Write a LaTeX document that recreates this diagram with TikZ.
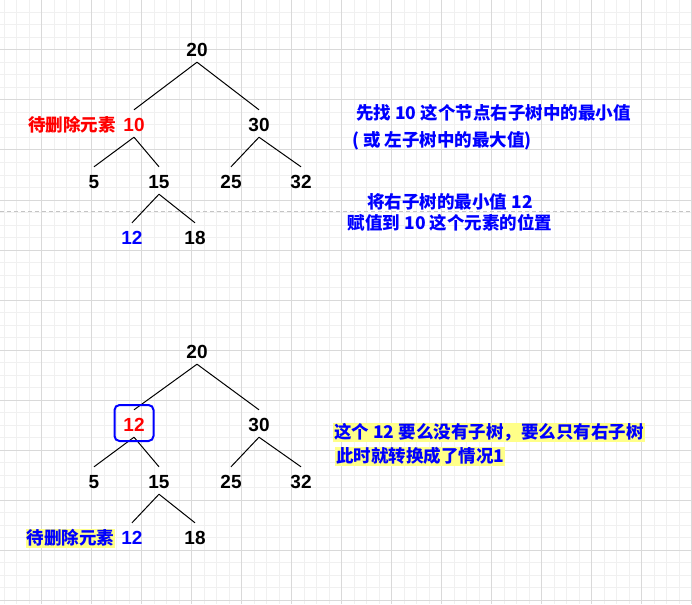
\documentclass[tikz,border=0pt]{standalone}
\usepackage{fontspec}
\setmainfont{Liberation Sans}
\newfontfamily\cjk{Noto Sans CJK SC}

\definecolor{gridmajor}{HTML}{D9D9D9}
\definecolor{gridminor}{HTML}{F0F0F0}
\definecolor{dashgray}{HTML}{C4C4C4}
\definecolor{noteblue}{HTML}{0000FF}
\definecolor{delred}{HTML}{FF0000}
\definecolor{hlyellow}{HTML}{FFFF88}

\tikzset{
  num/.style={inner sep=0pt, text height=21.8pt, text depth=5.2pt,
    font=\fontsize{19}{22}\selectfont\bfseries},
  edge/.style={line width=1pt},
  note/.style={inner sep=0pt, text=noteblue,
    font=\cjk\fontsize{17.5}{21}\selectfont\bfseries},
  hl/.style={note, fill=hlyellow, inner xsep=1pt, inner ysep=0.5pt,
    text height=15pt, text depth=2.5pt},
  selbox/.style={draw=noteblue, line width=2pt, rounded corners=5pt,
    minimum width=39pt, minimum height=36pt, inner sep=0pt}
}

\begin{document}
\begin{tikzpicture}[x=1pt, y=-1pt]
    \useasboundingbox (0,0) rectangle (692,604);
    % Grid paper in the background
    \foreach \gx in {4,16.5,...,692} \draw[gridminor, line width=1pt] (\gx,0) -- (\gx,604);
    \foreach \gy in {0,12.5,...,604} \draw[gridminor, line width=1pt] (0,\gy) -- (692,\gy);
    \foreach \gx in {41.5,91.5,...,692} \draw[gridmajor, line width=1pt] (\gx,0) -- (\gx,604);
    \foreach \gy in {0,50,...,604} \draw[gridmajor, line width=1pt] (0,\gy) -- (692,\gy);

    % Dashed separator between the two steps
    \draw[dashgray, line width=1pt, dash pattern=on 4pt off 3pt] (0,211) -- (692,211);

    % First tree: the node 10 is to be deleted
    \node[num] (n20) at (197,48.5) {20};
    \node[num, text=delred] (n10) at (134,123.5) {10};
    \node[num] (n30) at (259,123.5) {30};
    \node[num] (n5) at (94,180.5) {5};
    \node[num] (n15) at (159,180.5) {15};
    \node[num] (n25) at (231,180.5) {25};
    \node[num] (n32) at (301,180.5) {32};
    \node[num, text=noteblue] (n12) at (132,236.5) {12};
    \node[num] (n18) at (195,236.5) {18};

    \draw[edge] (n20.south) -- (n10.north);
    \draw[edge] (n20.south) -- (n30.north);
    \draw[edge] (n10.south) -- (n5.north);
    \draw[edge] (n10.south) -- (n15.north);
    \draw[edge] (n30.south) -- (n25.north);
    \draw[edge] (n30.south) -- (n32.north);
    \draw[edge] (n15.south) -- (n12.north);
    \draw[edge] (n15.south) -- (n18.north);

    % Notes for the first tree
    \node[note, text=delred, anchor=base east] (del1) at (116,131.6) {待删除元素};
    \node[note, anchor=base west] (find1) at (356,119.6) {先找 10 这个节点右子树中的最小值};
    \node[note, anchor=base west] (find2) at (352,146.6) {( 或 左子树中的最大值)};
    \node[note, anchor=base] (copy1) at (450,208.6) {将右子树的最小值 12};
    \node[note, anchor=base] (copy2) at (450,229.6) {赋值到 10 这个元素的位置};

    % Second tree: 12 now sits where 10 was
    \node[num] (m20) at (197,350.5) {20};
    \node[num, text=delred] (m12) at (134,423.5) {12};
    \node[num] (m30) at (259,423.5) {30};
    \node[num] (m5) at (94,480.5) {5};
    \node[num] (m15) at (159,480.5) {15};
    \node[num] (m25) at (231,480.5) {25};
    \node[num] (m32) at (301,480.5) {32};
    \node[num, text=noteblue] (m12b) at (132,536.5) {12};
    \node[num] (m18) at (195,536.5) {18};

    \draw[edge] (m20.south) -- (m12.north);
    \draw[edge] (m20.south) -- (m30.north);
    \draw[edge] (m12.south) -- (m5.north);
    \draw[edge] (m12.south) -- (m15.north);
    \draw[edge] (m30.south) -- (m25.north);
    \draw[edge] (m30.south) -- (m32.north);
    \draw[edge] (m15.south) -- (m12b.north);
    \draw[edge] (m15.south) -- (m18.north);

    % Frame round the replaced value
    \node[selbox] (box12) at (134,423) {};

    % Notes for the second tree
    \node[hl, anchor=base east] (del2) at (115.5,544.6) {待删除元素};
    \node[hl, anchor=base west] (case1) at (333,438.6) {这个 12 要么没有子树，要么只有右子树};
    \node[hl, anchor=base west] (case2) at (335,462.6) {此时就转换成了情况1};
\end{tikzpicture}
\end{document}
